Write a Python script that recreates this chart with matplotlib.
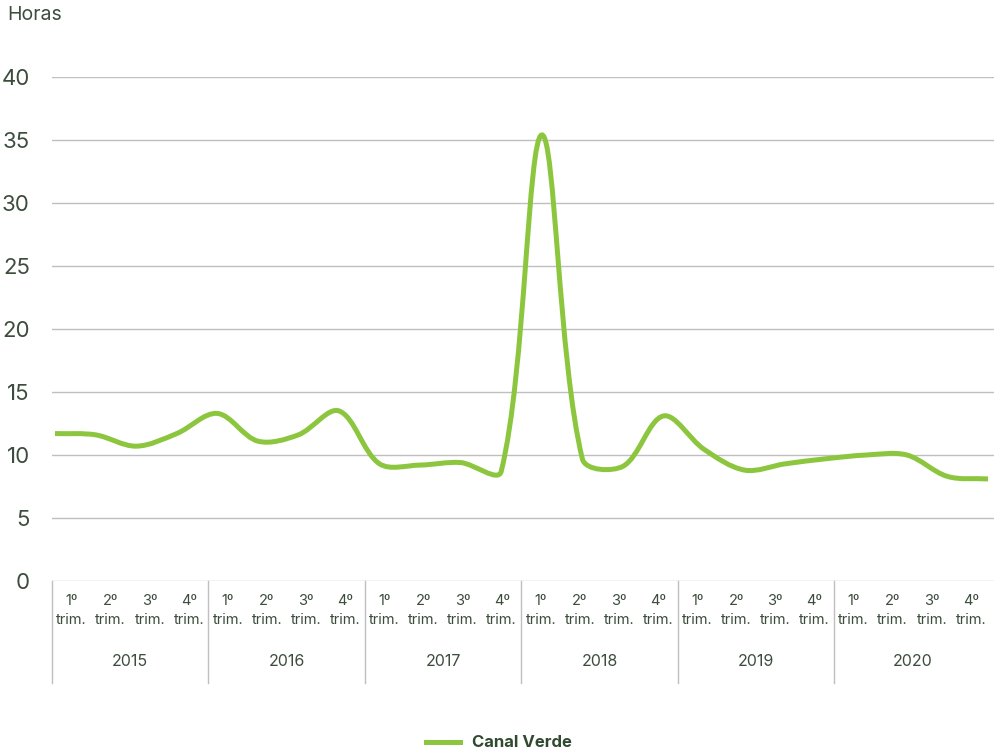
import numpy as np
import matplotlib.pyplot as plt
from matplotlib.path import Path
from matplotlib.patches import PathPatch
from matplotlib.lines import Line2D

plt.rcParams['font.family'] = ['Inter', 'DejaVu Sans']

# data
years = ['2015', '2016', '2017', '2018', '2019', '2020']
quarters = ['1º\ntrim.', '2º\ntrim.', '3º\ntrim.', '4º\ntrim.']
canal_verde = [11.7, 11.6, 10.7, 11.7, 13.3, 11.1, 11.6, 13.5,
               9.3, 9.2, 9.4, 8.7, 35.4, 9.7, 9.1, 13.1,
               10.45, 8.8, 9.3, 9.7, 10.0, 10.0, 8.3, 8.1]
yticks = [0, 5, 10, 15, 20, 25, 30, 35, 40]

text_col = '#3d4d3d'
line_col = '#8cc63f'
grid_col = '#bfbfbf'

fig = plt.figure(figsize=(9.94, 7.55), dpi=100)
ax = fig.add_axes([52 / 994, 1 - 581 / 755, 942 / 994, 504 / 755])

n = len(canal_verde)
ax.set_xlim(0, 942 / 39.1)
ax.set_ylim(0, 40)
ax.set_yticks(yticks)
ax.set_yticklabels([str(t) for t in yticks], fontsize=16, color=text_col)
ax.tick_params(axis='y', length=0, pad=16)
ax.set_xticks([])
for t in yticks:
    ax.axhline(t, color=grid_col, lw=1, zorder=1)
for s in ax.spines.values():
    s.set_visible(False)

# category labels below the plot
for i in range(n):
    ax.text(i + 0.5, -0.058, quarters[i % 4], transform=ax.get_xaxis_transform(),
            ha='center', va='center', fontsize=10.5, color=text_col, linespacing=1.45)
for j, yr in enumerate(years):
    ax.text(j * 4 + 2, -0.159, yr, transform=ax.get_xaxis_transform(),
            ha='center', va='center', fontsize=11.5, color=text_col)
    ax.plot([j * 4, j * 4], [0, -0.2024], transform=ax.get_xaxis_transform(),
            color=grid_col, lw=1, clip_on=False)

ax.text(-45 / 942, 1 + 62 / 504, 'Horas', transform=ax.transAxes,
        ha='left', va='center', fontsize=14, color=text_col)

# smoothed line on its own x scale; bezier handles scaled by segment length
ax2 = ax.twiny()
ax2.set_xlim(-3 / 40.57, 23 + 6 / 40.57)
ax2.set_ylim(0, 40)
ax2.axis('off')
xs = np.arange(n, dtype=float)
ys = np.array(canal_verde, dtype=float)
px = np.column_stack([xs * 40.57, ys * 12.6])
fwd = np.zeros_like(px)
bwd = np.zeros_like(px)
for i in range(n):
    a = px[max(i - 1, 0)]
    b = px[min(i + 1, n - 1)]
    d = b - a
    la = np.hypot(*(px[i] - a))
    lb = np.hypot(*(b - px[i]))
    if la + lb == 0:
        continue
    fwd[i] = px[i] + d * lb / (la + lb) / 3
    bwd[i] = px[i] - d * la / (la + lb) / 3
scale = np.array([40.57, 12.6])
verts = [px[0] / scale]
codes = [Path.MOVETO]
for i in range(n - 1):
    verts += [fwd[i] / scale, bwd[i + 1] / scale, px[i + 1] / scale]
    codes += [Path.CURVE4] * 3
ax2.add_patch(PathPatch(Path(verts, codes), facecolor='none', edgecolor=line_col,
                        lw=3.6, capstyle='butt', zorder=3))

handle = Line2D([], [], color=line_col, lw=3.6)
fig.legend([handle], ['Canal Verde'], loc='center', bbox_to_anchor=(0.502, 0.016),
           frameon=False, handlelength=2.05, handletextpad=0.75,
           prop={'size': 12, 'weight': 'bold'}, labelcolor='#2f4a2f')

fig.savefig('out.png', dpi=100)
